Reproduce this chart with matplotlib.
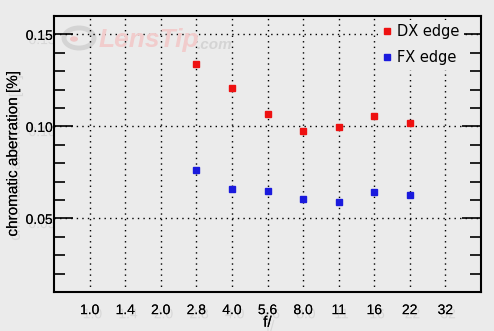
import matplotlib
matplotlib.use("Agg")
import matplotlib.pyplot as plt
import matplotlib.patheffects as pe
from matplotlib.ticker import MultipleLocator
from matplotlib.patches import Circle

apertures = ["1.0", "1.4", "2.0", "2.8", "4.0", "5.6", "8.0", "11", "16", "22", "32"]
measured = ["2.8", "4.0", "5.6", "8.0", "11", "16", "22"]
dx_edge = [0.134, 0.121, 0.107, 0.0977, 0.0998, 0.1058, 0.102]
fx_edge = [0.0761, 0.0661, 0.065, 0.0607, 0.0591, 0.0643, 0.0626]

bg = "#ebebeb"
W, H = 494, 331
fig = plt.figure(figsize=(W/100, H/100), dpi=100, facecolor=bg)
ax = fig.add_axes([54/W, 1-292/H, (481-54)/W, (292-16)/H])
ax.set_facecolor(bg)

xpos = [apertures.index(a) for a in measured]
ax.set_xlim(-1, 11)
ax.set_ylim(0.01, 0.16)

shadow = [pe.withSimplePatchShadow(offset=(2, -3), shadow_rgbFace="#cccccc", alpha=0.6), pe.Normal()]

ax.set_xticks(range(len(apertures)))
ax.set_xticklabels(apertures, family="Liberation Sans", fontsize=10)
ax.set_yticks([0.05, 0.10, 0.15])
ax.set_yticklabels(["0.05", "0.10", "0.15"], family="Liberation Sans", fontsize=10)
ax.yaxis.set_minor_locator(MultipleLocator(0.01))
ax.tick_params(axis="y", which="major", direction="in", length=14, width=1.2, right=True, pad=1)
ax.tick_params(axis="y", which="minor", direction="in", length=8, width=1.2, right=True)
ax.tick_params(axis="x", which="major", length=0, pad=8)
for lab in ax.get_xticklabels() + ax.get_yticklabels():
    lab.set_path_effects(shadow)

ax.grid(True, which="major", color="black", linestyle=(0, (1, 3)), linewidth=1.0)

for s in ax.spines.values():
    s.set_linewidth(1.5)

# watermark
ring = Circle((79/W, 1-38/H), 15/W, transform=fig.transFigure, fill=False,
              edgecolor="#d4d4d4", linewidth=3.5, zorder=0.5)
ax.add_patch(ring)
ring.set_transform(fig.transFigure)
dot = Circle((74/W, 1-39/H), 4/W, transform=fig.transFigure, facecolor="#efc6c6",
             edgecolor="none", zorder=0.5)
ax.add_patch(dot)
dot.set_transform(fig.transFigure)
fig.text(99/W, 1-40/H, "LensTip", color="#f1cccc", fontsize=19, family="Liberation Sans",
         fontweight="bold", style="italic", va="center", ha="left", zorder=0)
fig.text(197/W, 1-45/H, ".com", color="#d4d4d4", fontsize=11, family="Liberation Sans",
         fontweight="bold", style="italic", va="center", ha="left", zorder=0)

ax.plot(xpos, dx_edge, "s", color="#ee1111", markersize=4.5, label="DX edge", linestyle="none")
ax.plot(xpos, fx_edge, "s", color="#1a1add", markersize=4.5, label="FX edge", linestyle="none")

leg = ax.legend(loc="upper left", bbox_to_anchor=(378/W, 1-20/H), bbox_transform=fig.transFigure,
                frameon=True, facecolor=bg, edgecolor="none", framealpha=1,
                fontsize=10.5, handlelength=0.6, handletextpad=0.4, borderaxespad=0.0,
                borderpad=0.3, labelspacing=0.75, markerscale=1.0)
leg.get_frame().set_boxstyle("square", pad=0.0)

ax.set_ylabel("chromatic aberration [%]", family="Liberation Sans", fontsize=11, labelpad=4)
ax.set_xlabel("f/", family="Liberation Sans", fontsize=11, labelpad=-1)
ax.xaxis.label.set_path_effects(shadow)
ax.yaxis.label.set_path_effects(shadow)

fig.savefig("out.png", dpi=100, facecolor=bg)
